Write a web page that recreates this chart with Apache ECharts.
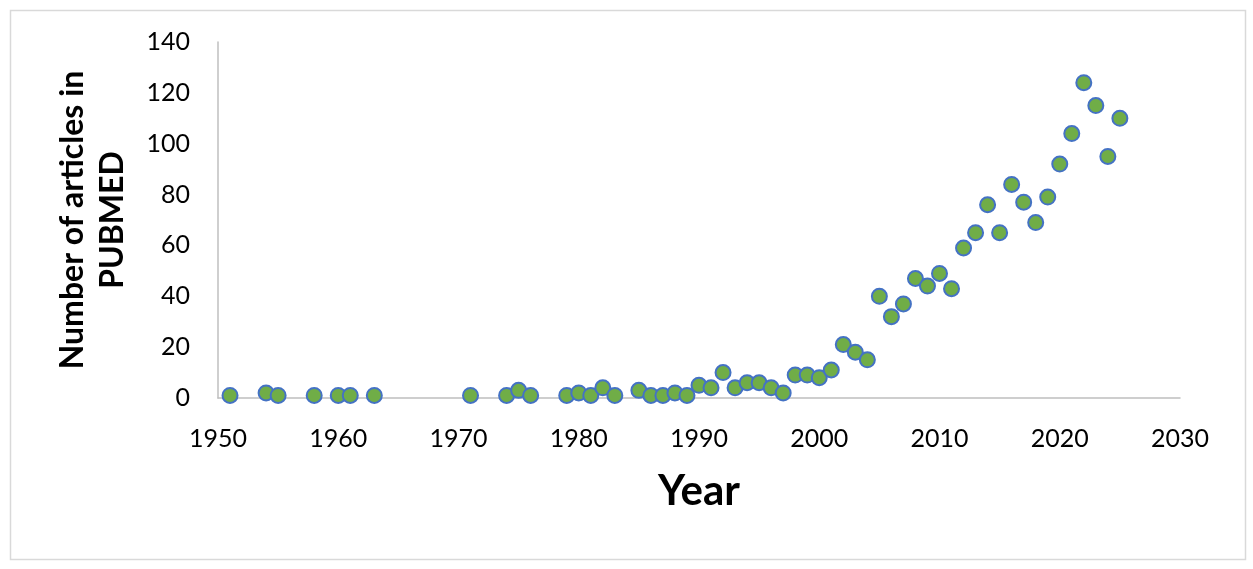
<!DOCTYPE html>
<html>
<head>
    <meta charset="utf-8">
    <title>PUBMED articles per year</title>
    <script src="https://cdn.jsdelivr.net/npm/echarts@6/dist/echarts.min.js"></script>
    <style>
        body { margin: 0; background: #fff; }
    </style>
</head>
<body>
    <div id="main" style="width: 1253px;height:569px;"></div>
    <script type="text/javascript">
        // data
        var years = [1951, 1954, 1955, 1958, 1960, 1961, 1963, 1971, 1974, 1975, 1976,
            1979, 1980, 1981, 1982, 1983, 1985, 1986, 1987, 1988, 1989,
            1990, 1991, 1992, 1993, 1994, 1995, 1996, 1997, 1998, 1999,
            2000, 2001, 2002, 2003, 2004, 2005, 2006, 2007, 2008, 2009,
            2010, 2011, 2012, 2013, 2014, 2015, 2016, 2017, 2018, 2019,
            2020, 2021, 2022, 2023, 2024, 2025];
        var articles = [1, 2, 1, 1, 1, 1, 1, 1, 1, 3, 1,
            1, 2, 1, 4, 1, 3, 1, 1, 2, 1,
            5, 4, 10, 4, 6, 6, 4, 2, 9, 9,
            8, 11, 21, 18, 15, 40, 32, 37, 47, 44,
            49, 43, 59, 65, 76, 65, 84, 77, 69, 79,
            92, 104, 124, 115, 95, 110];

        var points = [];
        for (var i = 0; i < years.length; i++) {
            points.push([years[i], articles[i]]);
        }

        var myChart = echarts.init(document.getElementById('main'));

        var font = 'Lato';

        var option = {
            animation: false,
            backgroundColor: '#ffffff',
            // outer frame of the chart
            graphic: [{
                type: 'rect',
                shape: { x: 10.5, y: 10.5, width: 1235, height: 549 },
                style: { fill: 'none', stroke: '#d9d9d9', lineWidth: 1.5 },
                silent: true
            }],
            grid: {
                left: 218,
                right: 73,
                top: 42,
                bottom: 171
            },
            xAxis: {
                type: 'value',
                min: 1950,
                max: 2030,
                interval: 10,
                name: 'Year',
                nameLocation: 'middle',
                nameGap: 72,
                nameTextStyle: {
                    fontFamily: font,
                    fontWeight: 'bold',
                    fontSize: 42,
                    color: '#000'
                },
                axisLine: { lineStyle: { color: '#bfbfbf', width: 1.5 } },
                axisTick: { show: false },
                splitLine: { show: false },
                axisLabel: {
                    fontFamily: font,
                    fontSize: 25,
                    color: '#000',
                    margin: 28,
                    formatter: function (v) { return String(v); }
                }
            },
            yAxis: {
                type: 'value',
                min: 0,
                max: 140,
                interval: 20,
                name: 'Number of articles in\nPUBMED',
                nameLocation: 'middle',
                nameGap: 85,
                nameTextStyle: {
                    fontFamily: font,
                    fontWeight: 'bold',
                    fontSize: 32,
                    lineHeight: 40,
                    color: '#000'
                },
                axisLine: { show: true, lineStyle: { color: '#bfbfbf', width: 1.5 } },
                axisTick: { show: false },
                splitLine: { show: false },
                axisLabel: {
                    fontFamily: font,
                    fontSize: 25,
                    color: '#000',
                    margin: 28
                }
            },
            series: [{
                name: 'Articles',
                type: 'scatter',
                symbol: 'circle',
                symbolSize: 15,
                itemStyle: {
                    color: '#70ad47',
                    borderColor: '#4472c4',
                    borderWidth: 2,
                    opacity: 1
                },
                data: points
            }]
        };

        myChart.setOption(option);
    </script>
</body>
</html>
